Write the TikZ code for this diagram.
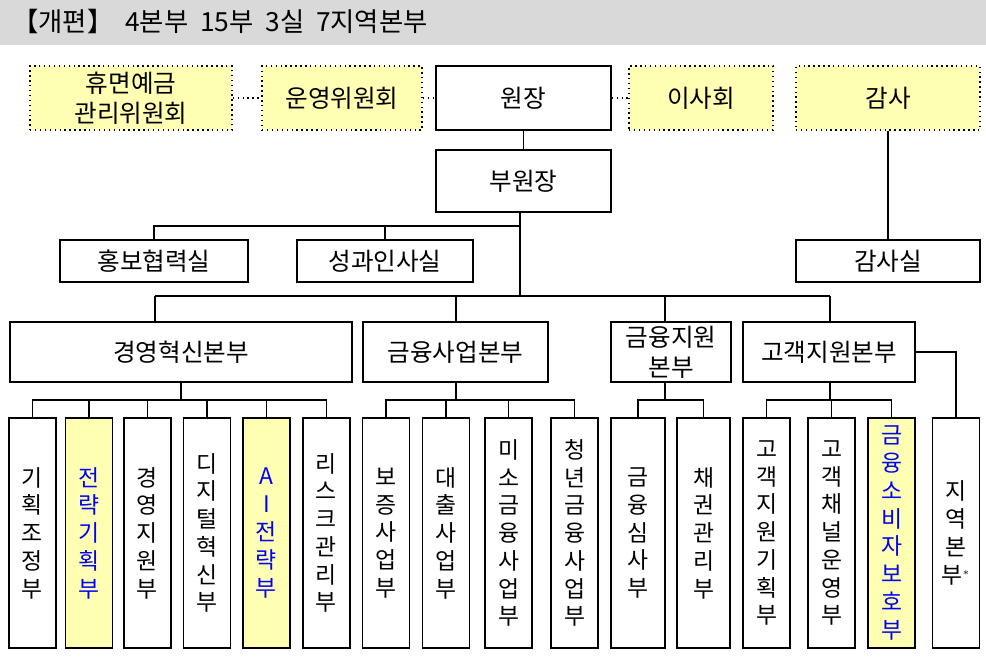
\documentclass[tikz,border=0pt]{standalone}
\usepackage{fontspec}
\setmainfont{Noto Sans CJK KR}
\definecolor{memo}{RGB}{255,255,180}
\definecolor{band}{RGB}{217,217,217}
\tikzset{
  box/.style={draw,thick,fill=white,align=center,inner sep=1pt,font=\fontsize{14}{17}\selectfont},
  dotbox/.style={box,dotted,fill=memo},
  hot/.style={fill=memo,text=blue},
  vbox/.style={box,font=\fontsize{13}{15.8}\selectfont},
  wire/.style={thick},
}
\newcommand\obox[6]{\node[#1,minimum width=#4*0.02cm,minimum height=#5*0.02cm] (#2) at (#3) {#6};}
\begin{document}
\begin{tikzpicture}[x=0.02cm,y=-0.02cm]
\useasboundingbox (0,0) rectangle (986,666);
\fill[band] (0,0) rectangle (986,45);
\node[anchor=west,font=\fontsize{15}{18}\selectfont] at (6,21) {【개편】\ \ 4본부\ \ 15부\ \ 3실\ \ 7지역본부};
% top row
\obox{dotbox}{dorm}{131,98}{202}{64}{휴면예금\\관리위원회}
\obox{dotbox}{oper}{342,98}{160}{64}{운영위원회}
\obox{box}{head}{523.5,98}{175}{64}{원장}
\obox{dotbox}{board}{701,98}{144}{64}{이사회}
\obox{dotbox}{audit}{888,98}{184}{64}{감사}
\obox{box}{dep}{523.5,181}{175}{62}{부원장}
% offices
\obox{box}{pr}{154,261}{188}{42}{홍보협력실}
\obox{box}{hr}{385,261}{176}{42}{성과인사실}
\obox{box}{auo}{888,261}{184}{42}{감사실}
% divisions
\obox{box}{mgmt}{181,352}{342}{60}{경영혁신본부}
\obox{box}{biz}{455.5,352}{185}{60}{금융사업본부}
\obox{box}{sup}{671,352}{120}{60}{금융지원\\본부}
\obox{box}{cust}{829,352}{172}{60}{고객지원본부}
% departments
\obox{vbox}{d1}{32.5,533}{47}{230}{기\\획\\조\\정\\부}
\obox{vbox,hot}{d2}{89,533}{47}{230}{전\\략\\기\\획\\부}
\obox{vbox}{d3}{147.5,533}{47}{230}{경\\영\\지\\원\\부}
\obox{vbox}{d4}{207,533}{47}{230}{디\\지\\털\\혁\\신\\부}
\obox{vbox,hot}{d5}{266.5,533}{47}{230}{A\\I\\전\\략\\부}
\obox{vbox}{d6}{326.5,533}{47}{230}{리\\스\\크\\관\\리\\부}
\obox{vbox}{d7}{386,533}{47}{230}{보\\증\\사\\업\\부}
\obox{vbox}{d8}{446,533}{47}{230}{대\\출\\사\\업\\부}
\obox{vbox}{d9}{508.5,533}{47}{230}{미\\소\\금\\융\\사\\업\\부}
\obox{vbox}{d10}{574.5,533}{47}{230}{청\\년\\금\\융\\사\\업\\부}
\obox{vbox}{d11}{638,533}{54}{230}{금\\융\\심\\사\\부}
\obox{vbox}{d12}{703.5,533}{53}{230}{채\\권\\관\\리\\부}
\obox{vbox}{d13}{766.5,533}{47}{230}{고\\객\\지\\원\\기\\획\\부}
\obox{vbox}{d14}{831.5,533}{47}{230}{고\\객\\채\\널\\운\\영\\부}
\obox{vbox,hot}{d15}{891.5,533}{47}{230}{금\\융\\소\\비\\자\\보\\호\\부}
\obox{vbox}{d16}{956,533}{47}{230}{지\\역\\본\\부$^{\scriptscriptstyle *}$}
% connectors
\draw[wire,dotted] (dorm) -- (oper);
\draw[wire,dotted] (oper) -- (head);
\draw[wire,dotted] (head) -- (board);
\draw[wire] (head) -- (dep);
\draw[wire] (audit) -- (auo);
\coordinate (bus) at (520,296);
\draw[wire] (dep.south -| bus) -- (bus);
\draw[wire] (520,226) -| (pr.north);
\draw[wire] (520,226) -| (hr.north);
\draw[wire] (155,296) -- (830,296);
\foreach \d/\x in {mgmt/155,biz/456,sup/665,cust/830}
  \draw[wire] (\x,296) -- (\d.north -| \x,0);
\draw[wire] (cust.east) -| (d16.north);
\draw[wire] (mgmt.south) -- (181,400);
\draw[wire] (d1.north) |- (181,400) -| (d6.north);
\foreach \d in {d2,d3,d4,d5} \draw[wire] (\d.north) -- (\d.north |- 0,400);
\draw[wire] (biz.south -| 456,0) -- (456,400);
\draw[wire] (d7.north) |- (456,400) -| (d10.north);
\foreach \d in {d8,d9} \draw[wire] (\d.north) -- (\d.north |- 0,400);
\draw[wire] (sup.south -| 665,0) -- (665,400);
\draw[wire] (d11.north) |- (665,400) -| (d12.north);
\draw[wire] (cust.south -| 830,0) -- (830,400);
\draw[wire] (d13.north) |- (830,400) -| (d15.north);
\draw[wire] (d14.north) -- (d14.north |- 0,400);
\end{tikzpicture}
\end{document}
